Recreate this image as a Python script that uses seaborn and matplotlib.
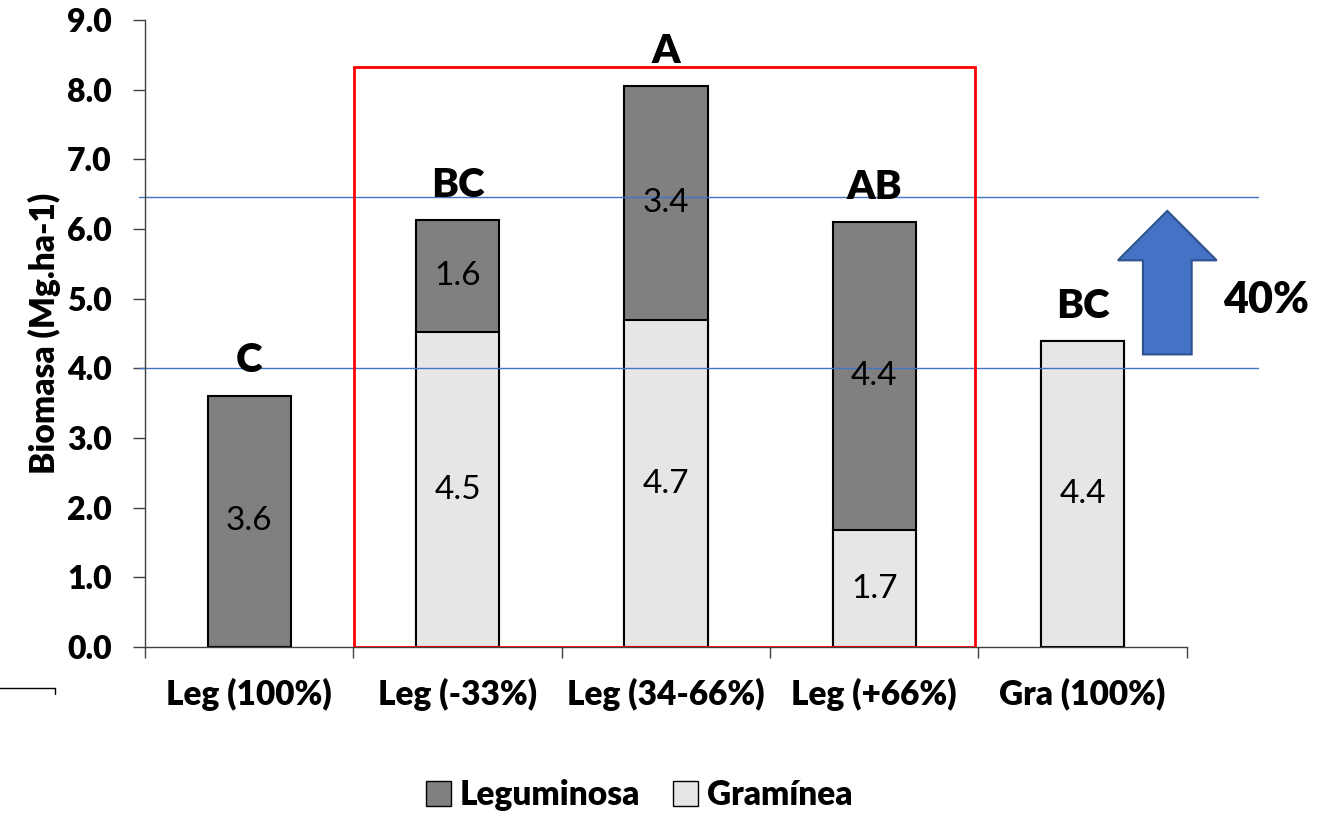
import numpy as np
import pandas as pd
import matplotlib
matplotlib.use("Agg")
import matplotlib.pyplot as plt
import seaborn as sns
from matplotlib.patches import Patch, Polygon, Rectangle
from matplotlib.lines import Line2D

# dados
categorias = ["Leg (100%)", "Leg (-33%)", "Leg (34-66%)", "Leg (+66%)", "Gra (100%)"]
leguminosa = [3.61, 1.61, 3.36, 4.42, 0.0]
graminea = [0.0, 4.52, 4.69, 1.68, 4.39]
letras = ["C", "BC", "A", "AB", "BC"]
linhas_ref = [4.0, 6.46]
aumento = "40%"

df = pd.DataFrame({"cat": categorias, "leg": leguminosa, "gra": graminea})
df["total"] = df["leg"] + df["gra"]

sns.set_theme(style="white")
plt.rcParams["font.family"] = ["Lato", "DejaVu Sans"]
plt.rcParams.update({"text.color": "black", "axes.labelcolor": "black",
                     "xtick.color": "black", "ytick.color": "black"})

cor_leg = "#808080"
cor_gra = "#e6e6e6"
azul = "#4472C4"
peso = "heavy"

fig = plt.figure(figsize=(13.32, 8.18), dpi=100)
ax = fig.add_axes([0.1089, 0.209, 0.782, 0.7666])

sns.barplot(data=df, x="cat", y="total", color=cor_leg, width=0.4,
            edgecolor="black", linewidth=1.5, saturation=1, ax=ax)
sns.barplot(data=df, x="cat", y="gra", color=cor_gra, width=0.4,
            edgecolor="black", linewidth=1.5, saturation=1, ax=ax)

ax.set_xlim(-0.5, 4.5)
ax.set_ylim(0, 9)
ax.set_yticks(np.arange(0, 9.1, 1.0))
ax.set_yticklabels([f"{v:.1f}" for v in np.arange(0, 9.1, 1.0)],
                   fontsize=23, fontweight=peso)
ax.set_xticks(range(len(categorias)))
ax.set_xticklabels(categorias, fontsize=24, fontweight=peso)
ax.set_xticks(np.arange(-0.5, 4.6, 1.0), minor=True)
ax.tick_params(axis="x", which="major", length=0, pad=22)
ax.tick_params(axis="x", which="minor", length=8, width=1, color="#404040", direction="out", bottom=True)
ax.tick_params(axis="y", length=9, width=1, color="#404040", direction="out", left=True, pad=15)
ax.set_xlabel("")
ax.set_ylabel("Biomasa (Mg.ha-1)", fontsize=24, fontweight=peso, labelpad=4)
for s in ["top", "right"]:
    ax.spines[s].set_visible(False)
for s in ["left", "bottom"]:
    ax.spines[s].set_color("#404040")
    ax.spines[s].set_linewidth(1)

# valores dentro das barras
for i, r in df.iterrows():
    if r["gra"] > 0:
        ax.text(i, r["gra"] / 2, f"{r['gra']:.1f}", ha="center", va="center", fontsize=24)
    if r["leg"] > 0:
        ax.text(i, r["gra"] + r["leg"] / 2, f"{r['leg']:.1f}", ha="center", va="center", fontsize=24)
    ax.text(i, r["total"] + 0.5, letras[i], ha="center", va="center",
            fontsize=29, fontweight=peso)

# linhas de referência
for y in linhas_ref:
    ax.plot([-0.53, 4.84], [y, y], color=azul, lw=1, clip_on=False, zorder=1)

# retângulo vermelho
ax.add_patch(Rectangle((0.505, 0), 2.98, 8.32, fill=False, edgecolor="red", lw=2, zorder=4))

# seta azul
cx, bw, hw = 4.407, 0.117, 0.237
seta = Polygon([(cx - bw, 4.2), (cx + bw, 4.2), (cx + bw, 5.55), (cx + hw, 5.55),
                (cx, 6.26), (cx - hw, 5.55), (cx - bw, 5.55)],
               closed=True, facecolor=azul, edgecolor="#2F528F", lw=1.5, clip_on=False, zorder=5)
ax.add_patch(seta)
ax.text(4.88, 4.98, aumento, ha="center", va="center", fontsize=31, fontweight=peso, clip_on=False)

# pequeno traço no canto
fig.add_artist(Line2D([0, 0.041], [0.159, 0.159], color="black", lw=1))
fig.add_artist(Line2D([0.041, 0.041], [0.159, 0.152], color="black", lw=1))

handles = [Patch(facecolor=cor_leg, edgecolor="black", label="Leguminosa"),
           Patch(facecolor=cor_gra, edgecolor="black", label="Gramínea")]
fig.legend(handles=handles, loc="center", bbox_to_anchor=(0.48, 0.028), ncol=2, frameon=False,
           prop={"size": 24, "weight": peso}, handlelength=0.75, handleheight=0.75,
           handletextpad=0.25, columnspacing=1.0)

fig.savefig("out.png", dpi=100)
